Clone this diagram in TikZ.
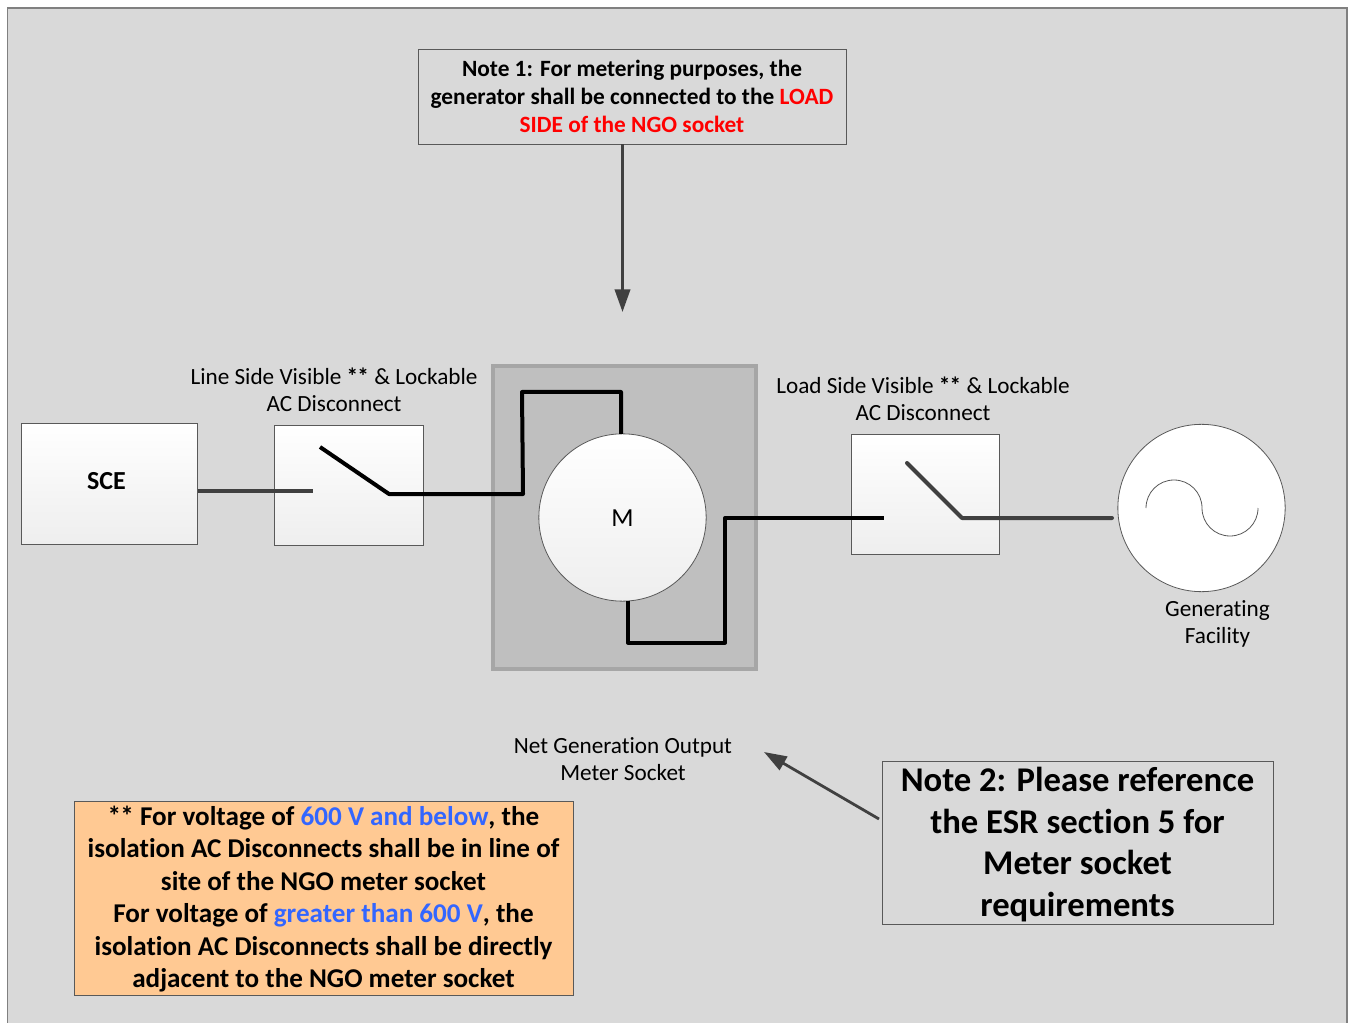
\documentclass[tikz,border=0pt]{standalone}
\usepackage{fontspec}
\setmainfont[Ligatures=NoCommon]{Carlito}
\usetikzlibrary{arrows.meta}
\definecolor{bgc}{HTML}{D9D9D9}
\definecolor{edgec}{HTML}{595959}
\definecolor{meterc}{HTML}{BFBFBF}
\definecolor{meterb}{HTML}{A6A6A6}
\definecolor{wired}{HTML}{404040}
\definecolor{orangec}{HTML}{FFC993}
\definecolor{bluec}{HTML}{3366FF}
\definecolor{botc}{HTML}{EEEEEE}
\newcommand{\stars}{*\kern-.6pt*}
\tikzset{
  x=.75pt,y=-.75pt,
  gradbox/.style={draw=edgec,line width=.6pt,top color=white,bottom color=botc,inner sep=0pt,outer sep=0pt,rectangle},
  notebox/.style={draw=edgec,line width=.6pt,inner sep=0pt,outer sep=0pt,rectangle},
  notetext/.style={inner sep=0pt,align=center,text=black},
  lab/.style={align=center,inner sep=0pt,font=\fontsize{17.4pt}{20.2pt}\selectfont,text=black},
  wireb/.style={line width=3pt,black,line join=round,line cap=round},
  wireg/.style={line width=3pt,wired,line join=round,line cap=round},
  arrowg/.style={line width=2.1pt,wired,-{Triangle[length=17pt,width=11.5pt]}},
}
\begin{document}
\begin{tikzpicture}
\clip (0,0) rectangle (1349,1023);
\fill[white] (0,0) rectangle (1349,1023);
\draw[fill=bgc,draw=gray,line width=.8pt] (7.5,8) rectangle (1347,1040);
% meter enclosure
\node[draw=meterb,fill=meterc,line width=3pt,minimum width=197.5pt,minimum height=227.5pt,inner sep=0pt,outer sep=0pt] (meter) at (624.5,517.5) {};
% boxes
\node[gradbox,minimum width=132pt,minimum height=90.75pt] (sce) at (109.5,483.5) {};
\node[font=\fontsize{19.5pt}{22pt}\selectfont\bfseries,inner sep=0pt] (scet) at (106.5,481) {SCE};
\node[gradbox,minimum width=111.4pt,minimum height=90pt] (sw1) at (349,485) {};
\node[gradbox,minimum width=111.4pt,minimum height=90pt] (sw2) at (925.25,494) {};
\node[gradbox,circle,minimum size=125.5pt] (mc) at (622.5,517.5) {};
\node[font=\fontsize{19.5pt}{22pt}\selectfont,inner sep=0pt] (mt) at (622.5,518.5) {M};
\node[draw=edgec,fill=white,line width=.6pt,circle,minimum size=125.5pt,inner sep=0pt,outer sep=0pt] (gen) at (1201.5,508) {};
% sine
\draw[line width=.6pt,edgec] (1146,508) .. controls (1146,492.5) and (1158.5,480) .. (1174,480) .. controls (1189.5,480) and (1202,492.5) .. (1202,508) .. controls (1202,523.5) and (1214.5,536) .. (1230,536) .. controls (1245.5,536) and (1258,523.5) .. (1258,508);
% switch points
\coordinate (s1a) at (313,491);
\coordinate (s1b) at (320,447);
\coordinate (s1c) at (389,494);
\coordinate (m1) at (523,494);
\coordinate (m2) at (522,392);
\coordinate (m3) at (621,392);
\coordinate (m4) at (628,642.5);
\coordinate (m5) at (725,642.5);
\coordinate (m6) at (725,518);
\coordinate (s2a) at (884,518);
\coordinate (s2b) at (907,463);
\coordinate (s2c) at (962,518);
\coordinate (s2d) at (1112,518);
% wires
\draw[wireg,line cap=butt] (sce.east |- s1a) -- (s1a);
\draw[wireb,line cap=butt] (s1b) -- (s1c) -- (m1) -- (m2) -- (m3) -- (m3 |- mc.north);
\draw[wireb,line cap=butt] (m4 |- mc.south) -- (m4) -- (m5) -- (m6) -- (s2a);
\draw[wireg] (s2b) -- (s2c) -- (s2d);
% notes
\node[notebox,minimum width=320.6pt,minimum height=71.6pt] (note1) at (632.25,96.75) {};
\node[notetext,font=\fontsize{17.5pt}{21pt}\selectfont\bfseries] (note1t) at (632,96.5) {Note 1: For metering purposes, the\\generator shall be connected to the \textcolor{red}{LOAD}\\\textcolor{red}{SIDE of the NGO socket}};
\node[notebox,minimum width=293.25pt,minimum height=122.6pt] (note2) at (1077.5,842.75) {};
\node[notetext,font=\fontsize{26pt}{31.2pt}\selectfont\bfseries] (note2t) at (1077.5,844.5) {Note 2: Please reference\\the ESR section 5 for\\Meter socket\\requirements};
\node[notebox,fill=orangec,minimum width=374.25pt,minimum height=145.5pt] (star) at (323.5,898) {};
\node[notetext,font=\fontsize{20.35pt}{24.4pt}\selectfont\bfseries] (start) at (323.5,899) {\stars{} For voltage of \textcolor{bluec}{600 V and below}, the\\isolation AC Disconnects shall be in line of\\site of the NGO meter socket\\For voltage of \textcolor{bluec}{greater than 600 V}, the\\isolation AC Disconnects shall be directly\\adjacent to the NGO meter socket};
% labels
\node[lab] (l1) at (334,390) {Line Side Visible \textbf{\stars} \& Lockable\\AC Disconnect};
\node[lab] (l2) at (923,398.5) {Load Side Visible \textbf{\stars} \& Lockable\\AC Disconnect};
\node[lab] (l3) at (1217.5,624) {Generating\\Facility};
\node[lab] (l4) at (623,759.5) {Net Generation Output\\Meter Socket};
% arrows
\coordinate (a1) at (622.5,312);
\coordinate (a2s) at (879,819);
\coordinate (a2e) at (764,752);
\draw[arrowg] (note1.south -| a1) -- (a1);
\draw[arrowg] (a2s) -- (a2e);
\end{tikzpicture}
\end{document}
